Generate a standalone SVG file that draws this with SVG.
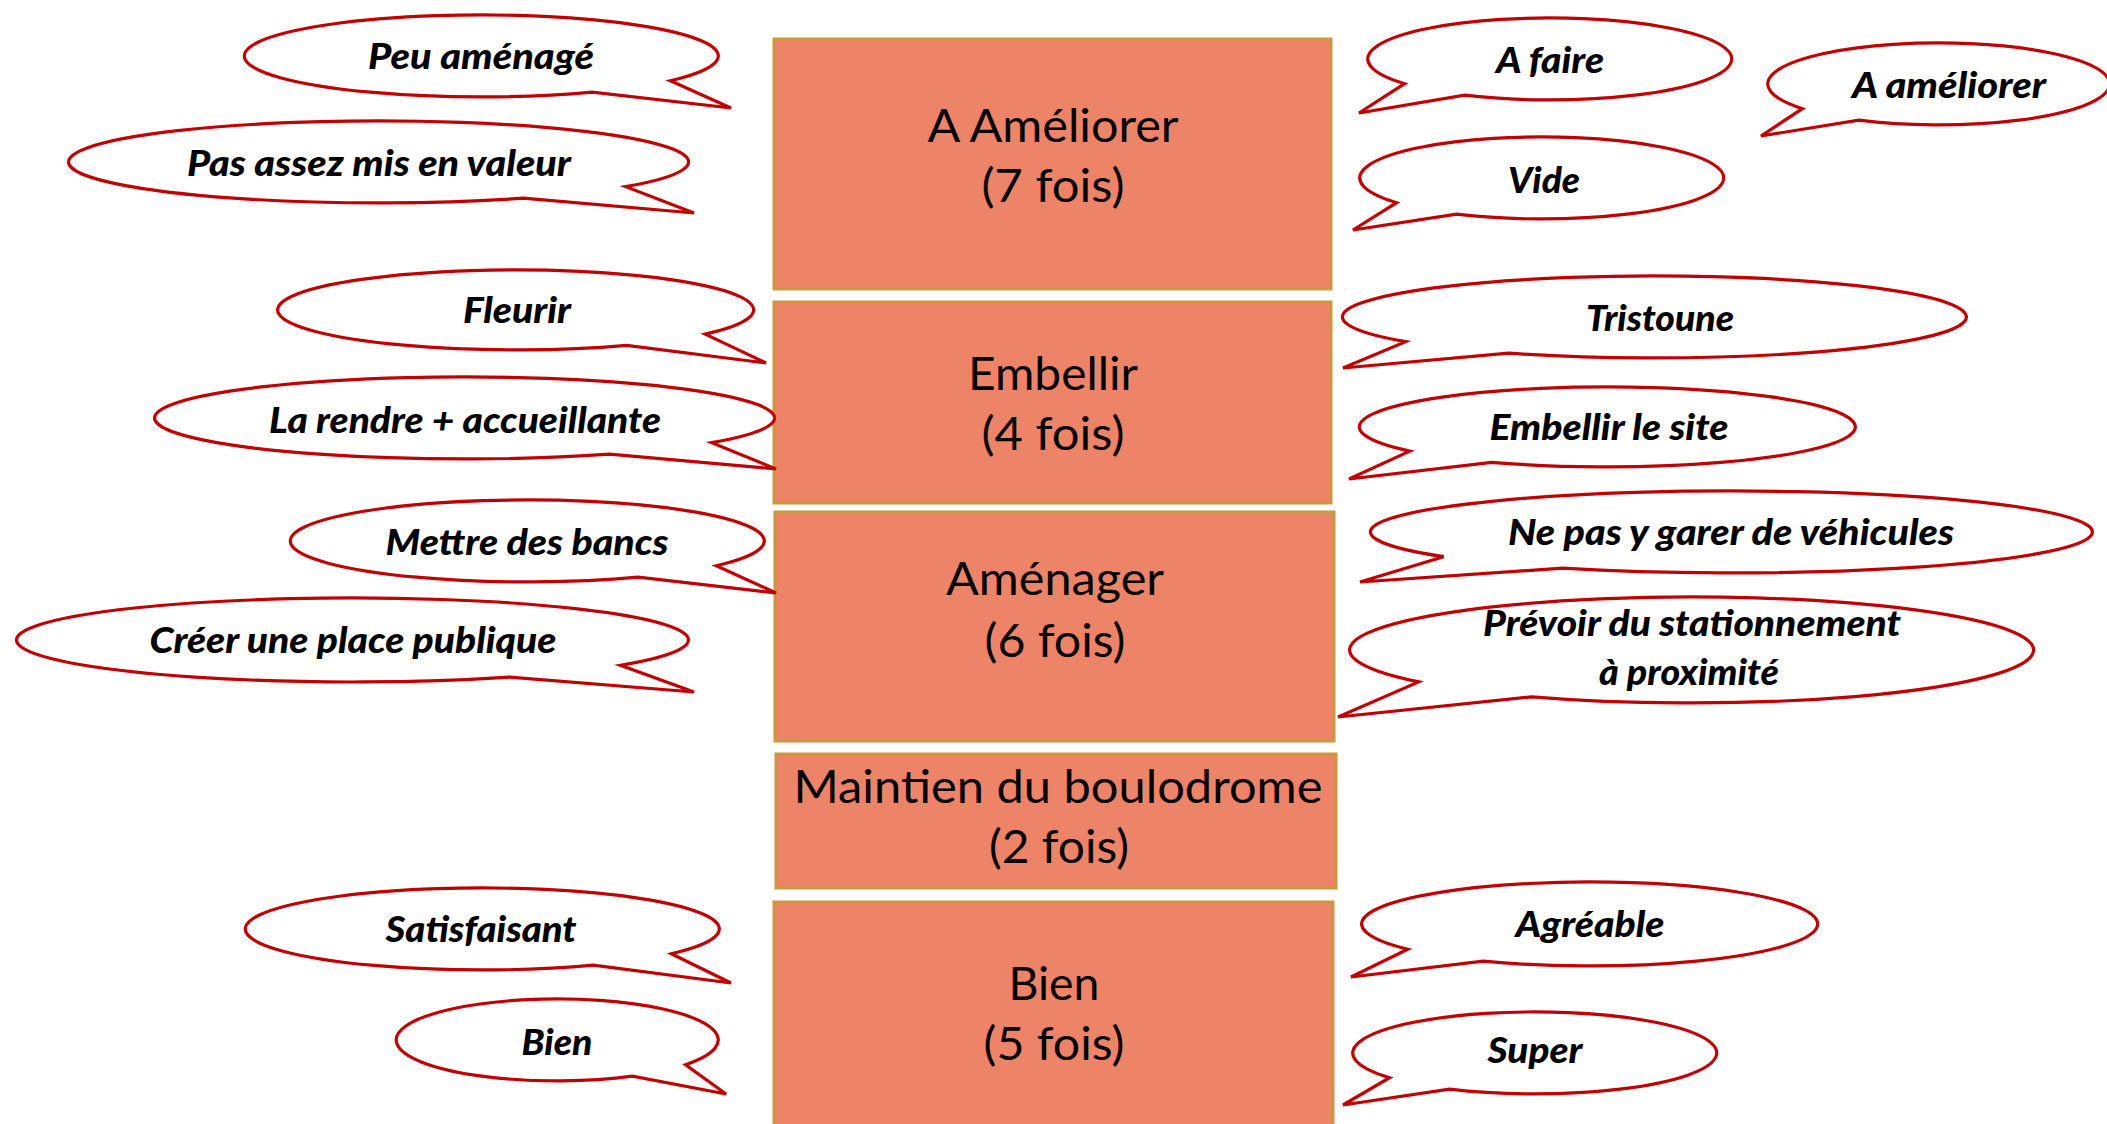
<svg xmlns="http://www.w3.org/2000/svg" width="2107" height="1124" viewBox="0 0 2107 1124">
<style>
.box{fill:#EE8467;stroke:#C9983F;stroke-width:3}
.bt{font-family:Lato,"Open Sans","Liberation Sans",sans-serif;font-size:46px;fill:#000;text-anchor:middle}
.bub{fill:#fff;stroke:#C00000;stroke-width:3.2;stroke-linejoin:miter}
.ct{font-family:Lato,"Liberation Sans",sans-serif;font-size:36px;font-weight:900;font-style:italic;fill:#000;text-anchor:middle}
</style>
<rect width="2107" height="1124" fill="#fff"/>
<g id="box-ameliorer"><rect class="box" x="774" y="39" width="557" height="250"/>
<text class="bt" x="1053" y="142" textLength="251" lengthAdjust="spacingAndGlyphs">A Améliorer</text>
<text class="bt" x="1053" y="202" textLength="143" lengthAdjust="spacingAndGlyphs">(7 fois)</text></g>
<g id="box-embellir"><rect class="box" x="774" y="302" width="557" height="201"/>
<text class="bt" x="1053" y="390" textLength="170" lengthAdjust="spacingAndGlyphs">Embellir</text>
<text class="bt" x="1053" y="450" textLength="143" lengthAdjust="spacingAndGlyphs">(4 fois)</text></g>
<g id="box-amenager"><rect class="box" x="775" y="512" width="559" height="229"/>
<text class="bt" x="1055" y="595" textLength="218" lengthAdjust="spacingAndGlyphs">Aménager</text>
<text class="bt" x="1055" y="657" textLength="141" lengthAdjust="spacingAndGlyphs">(6 fois)</text></g>
<g id="box-maintien"><rect class="box" x="776" y="754" width="560" height="134"/>
<text class="bt" x="1058" y="803" textLength="529" lengthAdjust="spacingAndGlyphs">Maintien du boulodrome</text>
<text class="bt" x="1059" y="863" textLength="140" lengthAdjust="spacingAndGlyphs">(2 fois)</text></g>
<g id="box-bien"><rect class="box" x="774" y="902" width="559" height="240"/>
<text class="bt" x="1054" y="1000" textLength="91" lengthAdjust="spacingAndGlyphs">Bien</text>
<text class="bt" x="1054" y="1060" textLength="141" lengthAdjust="spacingAndGlyphs">(5 fois)</text></g>

<g id="c-peu-amenage"><path class="bub" d="M670.3 80.7 A237 41 0 1 0 592.2 92.2 L731 108 Z"/>
<text class="ct" x="481" y="69" textLength="226" lengthAdjust="spacingAndGlyphs">Peu aménagé</text></g>
<g id="c-pas-assez"><path class="bub" d="M625.7 186.7 A310 41 0 1 0 523.4 198.2 L694 213 Z"/>
<text class="ct" x="379" y="176" textLength="384" lengthAdjust="spacingAndGlyphs">Pas assez mis en valeur</text></g>
<g id="c-fleurir"><path class="bub" d="M705.2 334.1 A238 40 0 1 0 626.6 345.3 L766 363 Z"/>
<text class="ct" x="517" y="323" textLength="108" lengthAdjust="spacingAndGlyphs">Fleurir</text></g>
<g id="c-rendre"><path class="bub" d="M711.7 442.7 A310 41 0 1 0 609.4 454.2 L776 469 Z"/>
<text class="ct" x="465" y="433" textLength="392" lengthAdjust="spacingAndGlyphs">La rendre + accueillante</text></g>
<g id="c-bancs"><path class="bub" d="M716.3 565.7 A237 41 0 1 0 638.2 577.2 L776 593 Z"/>
<text class="ct" x="527" y="555" textLength="283" lengthAdjust="spacingAndGlyphs">Mettre des bancs</text></g>
<g id="c-place"><path class="bub" d="M620.5 665.3 A336 42 0 1 0 509.6 677.1 L694 692 Z"/>
<text class="ct" x="353" y="653" textLength="407" lengthAdjust="spacingAndGlyphs">Créer une place publique</text></g>
<g id="c-satisfaisant"><path class="bub" d="M671.3 953.7 A237 41 0 1 0 593.2 965.2 L731 983 Z"/>
<text class="ct" x="481" y="942" textLength="191" lengthAdjust="spacingAndGlyphs">Satisfaisant</text></g>
<g id="c-bien"><path class="bub" d="M685.6 1064.7 A161 41 0 1 0 632.5 1076.2 L726 1094 Z"/>
<text class="ct" x="557" y="1055" textLength="71" lengthAdjust="spacingAndGlyphs">Bien</text></g>

<g id="c-a-faire"><path class="bub" d="M1404.6 83.7 A182 41 0 1 1 1464.6 95.2 L1359 113 Z"/>
<text class="ct" x="1550" y="73" textLength="108" lengthAdjust="spacingAndGlyphs">A faire</text></g>
<g id="c-a-ameliorer"><path class="bub" d="M1802.4 108.7 A171 41 0 1 1 1858.8 120.2 L1761 136 Z"/>
<text class="ct" x="1949" y="98" textLength="194" lengthAdjust="spacingAndGlyphs">A améliorer</text></g>
<g id="c-vide"><path class="bub" d="M1396.6 202.7 A182 41 0 1 1 1456.6 214.2 L1353 230 Z"/>
<text class="ct" x="1544" y="193" textLength="72" lengthAdjust="spacingAndGlyphs">Vide</text></g>
<g id="c-tristoune"><path class="bub" d="M1405.7 341.7 A312 41 0 1 1 1508.7 353.2 L1343 368 Z"/>
<text class="ct" x="1660" y="331" textLength="148" lengthAdjust="spacingAndGlyphs">Tristoune</text></g>
<g id="c-embellir-site"><path class="bub" d="M1409.8 451.1 A248 40 0 1 1 1491.7 462.3 L1349 479 Z"/>
<text class="ct" x="1609" y="440" textLength="239" lengthAdjust="spacingAndGlyphs">Embellir le site</text></g>
<g id="c-garer"><path class="bub" d="M1443.6 556.7 A361 41 0 1 1 1562.7 568.2 L1360 582 Z"/>
<text class="ct" x="1731" y="545" textLength="446" lengthAdjust="spacingAndGlyphs">Ne pas y garer de véhicules</text></g>
<g id="c-stationnement"><path class="bub" d="M1418.7 681.9 A342 53 0 1 1 1531.6 696.8 L1338 717 Z"/>
<text class="ct" x="1692" y="636" textLength="418" lengthAdjust="spacingAndGlyphs">Prévoir du stationnement</text>
<text class="ct" x="1689" y="685" textLength="180" lengthAdjust="spacingAndGlyphs">à proximité</text></g>
<g id="c-agreable"><path class="bub" d="M1407.8 949.3 A228 42 0 1 1 1483.1 961.1 L1351 977 Z"/>
<text class="ct" x="1590" y="937" textLength="149" lengthAdjust="spacingAndGlyphs">Agréable</text></g>
<g id="c-super"><path class="bub" d="M1389.6 1077.7 A182 41 0 1 1 1449.6 1089.2 L1343 1105 Z"/>
<text class="ct" x="1535" y="1063" textLength="95" lengthAdjust="spacingAndGlyphs">Super</text></g>
</svg>
